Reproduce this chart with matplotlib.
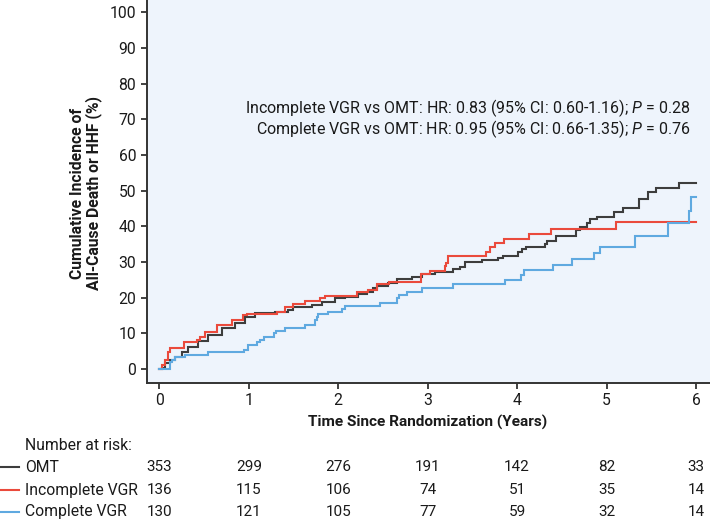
import matplotlib
matplotlib.use("Agg")
import matplotlib.pyplot as plt
from matplotlib.lines import Line2D
import matplotlib.transforms as mtransforms

plt.rcParams['font.family'] = ['Roboto', 'DejaVu Sans']
plt.rcParams['mathtext.fontset'] = 'custom'
plt.rcParams['mathtext.it'] = 'Roboto:italic'
plt.rcParams['mathtext.rm'] = 'Roboto'

# ---- data ----
omt_t = [0, 0.03, 0.063, 0.118, 0.174, 0.249, 0.323, 0.435, 0.547, 0.696, 0.845, 0.957,
         1.069, 1.292, 1.44, 1.497, 1.703, 1.814, 1.963, 2.075, 2.224, 2.318, 2.392, 2.43,
         2.56, 2.653, 2.82, 2.933, 3.082, 3.194, 3.287, 3.362, 3.417, 3.603, 3.79, 3.846,
         4.006, 4.058, 4.095, 4.312, 4.33, 4.43, 4.658, 4.703, 4.778, 4.815, 4.89, 5.083,
         5.188, 5.367, 5.468, 5.553, 5.814, 6.0]
omt_v = [0, 0.3, 1.6, 2.6, 3.5, 4.9, 6.3, 7.9, 9.6, 11.5, 12.9, 14.5,
         15.7, 16.0, 16.6, 17.3, 18.0, 18.7, 20.0, 20.2, 20.9, 21.7, 22.7, 23.2,
         24.1, 25.2, 25.9, 26.6, 27.2, 27.3, 28.0, 28.7, 29.9, 30.6, 31.1, 31.7,
         32.7, 33.7, 34.2, 35.0, 36.0, 37.4, 39.0, 39.7, 40.9, 42.0, 42.7, 44.1,
         45.1, 47.6, 49.5, 50.7, 52.1, 52.1]

inc_t = [0, 0.03, 0.063, 0.10, 0.12, 0.279, 0.417, 0.45, 0.51, 0.64, 0.808, 0.94, 0.976,
         1.31, 1.404, 1.497, 1.628, 1.796, 1.852, 2.206, 2.336, 2.43, 2.567, 2.925, 3.026,
         3.194, 3.21, 3.23, 3.648, 3.696, 3.752, 3.853, 4.133, 4.375, 5.105, 6.0]
inc_v = [0, 1.2, 2.6, 4.9, 5.9, 7.45, 8.2, 9.0, 10.25, 12.4, 13.8, 15.2, 15.5,
         16.1, 17.5, 18.3, 19.2, 19.9, 20.6, 21.5, 22.2, 23.9, 24.5, 26.7, 27.6,
         28.8, 29.8, 31.8, 32.8, 34.1, 35.3, 36.5, 37.9, 39.3, 41.3, 41.3]

com_t = [0, 0.12, 0.14, 0.18, 0.286, 0.547, 0.95, 0.987, 1.088, 1.125, 1.173, 1.285, 1.30,
         1.404, 1.628, 1.74, 1.758, 1.777, 1.889, 2.038, 2.075, 2.467, 2.653, 2.679, 2.765,
         2.933, 3.287, 3.864, 4.045, 4.08, 4.405, 4.61, 4.86, 4.926, 5.318, 5.69, 5.925,
         5.95, 6.0]
com_v = [0, 2.1, 2.6, 3.5, 4.0, 4.65, 5.4, 6.8, 7.5, 8.2, 9.1, 10.1, 10.7,
         11.5, 12.2, 13.8, 14.7, 15.5, 16.1, 16.9, 17.7, 18.6, 19.9, 20.8, 21.7,
         22.7, 23.8, 25.0, 26.4, 27.8, 29.2, 30.8, 32.5, 34.2, 37.2, 40.9, 44.4,
         48.2, 48.2]

groups = ["OMT", "Incomplete VGR", "Complete VGR"]
colors = ["#3d3d3d", "#ea4a3c", "#5fa9e0"]
risk_times = [0, 1, 2, 3, 4, 5, 6]
risk_omt = [353, 299, 276, 191, 142, 82, 33]
risk_inc = [136, 115, 106, 74, 51, 35, 14]
risk_com = [130, 121, 105, 77, 59, 32, 14]
x_ticks = [0, 1, 2, 3, 4, 5, 6]
y_ticks = [0, 10, 20, 30, 40, 50, 60, 70, 80, 90, 100]

# ---- figure ----
fig = plt.figure(figsize=(7.10, 5.21), dpi=100)
renderer = fig.canvas.get_renderer()


def fit_size(artist, target_px, horizontal=True):
    """Scale an artist's font so its extent matches a target pixel length."""
    for _ in range(2):
        bb = artist.get_window_extent(renderer)
        cur = bb.width if horizontal else bb.height
        artist.set_fontsize(artist.get_fontsize() * target_px / cur)
    return artist.get_fontsize()


ax = fig.add_axes([147/710, 1 - 382.7/521, 1 - 147/710, 382.7/521])
ax.set_facecolor("#eef4fc")

series = [(omt_t, omt_v), (inc_t, inc_v), (com_t, com_v)]
for (t, v), c in zip(series, colors):
    ax.step(t, v, where="post", color=c, lw=1.5, solid_joinstyle="miter")

ax.set_xlim(-0.138, 6.157)
ax.set_ylim(-3.84, 103.45)
ax.set_xticks(x_ticks)
ax.set_yticks(y_ticks)
ax.spines["top"].set_visible(False)
ax.spines["right"].set_visible(False)
for s in ["left", "bottom"]:
    ax.spines[s].set_color("#333333")
    ax.spines[s].set_linewidth(1.4)

# tick label size fitted to "100" width (~26.5 px)
probe = fig.text(0, 0, "100", fontsize=12)
tick_fs = fit_size(probe, 26.5)
probe.remove()

ax.tick_params(axis="both", colors="#333333", labelcolor="#1a1a1a", width=1.3,
               length=4.3, labelsize=tick_fs)
ax.tick_params(axis="x", pad=3.0)
ax.tick_params(axis="y", pad=3.5)

# x label centred at x=428 px, y=422 px
xl = fig.text(428/710, 1 - 422/521, "Time Since Randomization (Years)", ha="center",
              va="center", fontsize=11, fontweight="bold", color="#1a1a1a")
fit_size(xl, 240)

yl = fig.text(86/710, 1 - 193/521, "Cumulative Incidence of\nAll-Cause Death or HHF (%)",
              rotation=90, ha="center", va="center", fontsize=11.5, fontweight="bold",
              multialignment="center", color="#1a1a1a", linespacing=1.0)
fit_size(yl, 196, horizontal=False)

a1 = ax.text(0.966, 1 - 108.3/382.7,
             r"Incomplete VGR vs OMT: HR: 0.83 (95% CI: 0.60-1.16); $P$ = 0.28",
             transform=ax.transAxes, ha="right", va="center", fontsize=11.5, color="#1a1a1a")
ann_fs = fit_size(a1, 447)
ax.text(0.966, 1 - 129.3/382.7,
        r"Complete VGR vs OMT: HR: 0.95 (95% CI: 0.66-1.35); $P$ = 0.76",
        transform=ax.transAxes, ha="right", va="center", fontsize=ann_fs, color="#1a1a1a")

# ---- number at risk table ----
probe = fig.text(0, 0, "Incomplete VGR", fontsize=11.5)
tab_fs = fit_size(probe, 112)
probe.remove()

trans = mtransforms.blended_transform_factory(ax.transData, fig.transFigure)
fig.text(25/710, 1 - 445/521, "Number at risk:", ha="left", va="center",
         fontsize=tab_fs, color="#1a1a1a")
row_y = [1 - 467.3/521, 1 - 490/521, 1 - 511.7/521]
for name, c, counts, yy in zip(groups, colors, [risk_omt, risk_inc, risk_com], row_y):
    fig.add_artist(Line2D([0, 19/710], [yy, yy], color=c, lw=1.5,
                          transform=fig.transFigure))
    fig.text(25/710, yy, name, ha="left", va="center", fontsize=tab_fs, color="#1a1a1a")
    for tt, n in zip(risk_times, counts):
        fig.text(tt, yy, str(n), transform=trans, ha="center", va="center",
                 fontsize=tick_fs * 0.97, color="#1a1a1a")

fig.savefig("out.png", dpi=100)
